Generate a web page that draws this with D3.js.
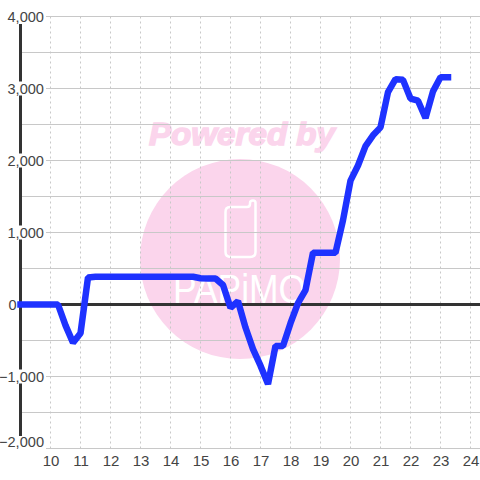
<!DOCTYPE html>
<html>
<head>
<meta charset="utf-8">
<script src="https://cdnjs.cloudflare.com/ajax/libs/d3/7.8.5/d3.min.js"></script>
<style>
  html, body { margin: 0; padding: 0; background: #fff; }
  text { font-family: "Liberation Sans", sans-serif; }
</style>
</head>
<body>
<svg id="chart" width="480" height="480"></svg>
<script>
const hours = [9, 9.25, 9.5, 9.75, 10, 10.25, 10.5, 10.75, 11, 11.25, 11.5, 11.75, 12, 12.25, 12.5, 12.75,
  13, 13.25, 13.5, 13.75, 14, 14.25, 14.5, 14.75, 15, 15.25, 15.5, 15.75, 16, 16.25, 16.5, 16.75,
  17, 17.25, 17.5, 17.75, 18, 18.25, 18.5, 18.75, 19, 19.25, 19.5, 19.75, 20, 20.25, 20.5, 20.75,
  21, 21.25, 21.5, 21.75, 22, 22.25, 22.5, 22.75, 23, 23.25];
const profit = [0, 0, 0, 0, 0, 0, -290, -530, -400, 375, 385, 385, 385, 385, 385, 385,
  385, 385, 385, 385, 385, 385, 385, 385, 365, 360, 360, 270, -45, 45, -320, -620,
  -850, -1105, -575, -575, -260, 20, 200, 720, 720, 720, 720, 1170, 1720, 1930, 2200, 2350,
  2460, 2950, 3130, 3120, 2860, 2830, 2590, 2960, 3155, 3155];
const xTicks = [10, 11, 12, 13, 14, 15, 16, 17, 18, 19, 20, 21, 22, 23, 24];
const yLabels = [4000, 3000, 2000, 1000, 0, -1000, -2000];
const yGrid = [3500, 2500, 1500, 500, -500, -1500];

const x = d3.scaleLinear().domain([10, 24]).range([50.5, 470.5]);
const y = d3.scaleLinear().domain([-2000, 4000]).range([448.5, 16.5]);

const svg = d3.select("#chart");

// watermark sits behind everything
const pink = "#fbd5ec";
const mark = svg.append("g");
mark.append("circle").attr("cx", 240).attr("cy", 259).attr("r", 100).attr("fill", pink);
mark.append("text")
  .attr("x", 242).attr("y", 145)
  .attr("text-anchor", "middle")
  .style("font-size", "32px").style("font-weight", "bold").style("font-style", "italic")
  .attr("textLength", 186).attr("lengthAdjust", "spacingAndGlyphs")
  .attr("fill", pink).attr("stroke", pink).attr("stroke-width", 1.5)
  .text("Powered by");
mark.append("path")
  .attr("d", "M230 207 H247 Q250 207 250 204 V203 Q250 200.5 253 200.5 Q255.5 200.5 255.5 203 V252 Q255.5 257 250 257 H231 Q225.5 257 225.5 252 V212 Q225.5 207 230 207 Z")
  .attr("fill", "none").attr("stroke", "#fff").attr("stroke-width", 2.5);
mark.append("text")
  .attr("x", 173).attr("y", 303)
  .style("font-size", "40px")
  .attr("textLength", 133).attr("lengthAdjust", "spacingAndGlyphs")
  .attr("fill", "#fff")
  .text("PAPiMO");

// grid
svg.append("g").selectAll("line").data(xTicks).join("line")
  .attr("x1", d => x(d)).attr("x2", d => x(d))
  .attr("y1", y(4000)).attr("y2", y(-2000))
  .attr("stroke", "#c8c8c8").attr("stroke-dasharray", "2,3");
svg.append("g").selectAll("line").data(yGrid).join("line")
  .attr("x1", 22).attr("x2", 480)
  .attr("y1", d => y(d)).attr("y2", d => y(d))
  .attr("stroke", "#c8c8c8");
svg.append("g").selectAll("line").data(yLabels.filter(d => d !== 0)).join("line")
  .attr("x1", 46).attr("x2", 480)
  .attr("y1", d => y(d)).attr("y2", d => y(d))
  .attr("stroke", "#c8c8c8");

// axis lines
svg.append("line").attr("x1", 20.5).attr("x2", 20.5).attr("y1", 24).attr("y2", 436)
  .attr("stroke", "#333").attr("stroke-width", 3);
svg.append("line").attr("x1", 20).attr("x2", 480).attr("y1", y(0)).attr("y2", y(0))
  .attr("stroke", "#333").attr("stroke-width", 3);

// y labels, the white box cuts the axis line behind them
const labelY = d => d === -2000 ? y(d) - 7 : y(d);
const yLab = svg.append("g").selectAll("g").data(yLabels).join("g")
  .attr("transform", d => `translate(${d === 0 ? 16.5 : 44},${labelY(d)})`);
yLab.filter(d => d !== 0 && d !== 4000 && d !== -2000).append("rect")
  .attr("x", -38).attr("y", -7).attr("width", 38).attr("height", 14).attr("fill", "#fff");
yLab.append("text")
  .attr("text-anchor", "end").attr("dy", "0.35em")
  .style("font-size", "14.6px").attr("fill", "#444")
  .text(d => d3.format(",")(d));

svg.append("g").selectAll("text").data(xTicks).join("text")
  .attr("x", d => x(d) + 0.5).attr("y", 466)
  .attr("text-anchor", "middle")
  .style("font-size", "15px").attr("fill", "#444")
  .text(d => d);

// profit line
const line = d3.line().x((d, i) => x(hours[i])).y(d => y(d));
svg.append("path").datum(profit)
  .attr("d", line)
  .attr("fill", "none").attr("stroke", "#1e32ff")
  .attr("stroke-width", 6.5).attr("stroke-linecap", "square").attr("stroke-linejoin", "bevel");
</script>
</body>
</html>
